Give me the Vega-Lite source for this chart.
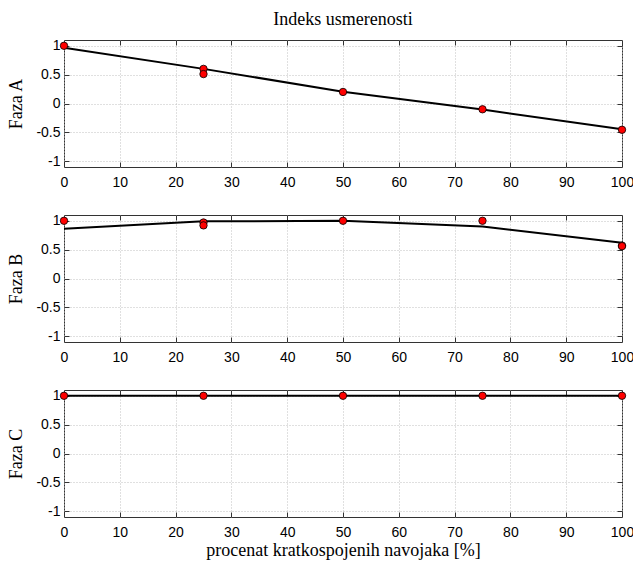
{
  "$schema": "https://vega.github.io/schema/vega-lite/v6.json",
  "background": "white",
  "padding": {"left": 7, "top": 10, "right": 5, "bottom": 0},
  "spacing": 48,
  "bounds": "flush",
  "config": {
    "view": {"stroke": "#333333", "strokeWidth": 1},
    "axis": {
      "domain": false,
      "tickColor": "#333333",
      "tickSize": -5,
      "tickWidth": 1,
      "labelFont": "Liberation Sans",
      "labelFontSize": 14,
      "labelColor": "black",
      "gridColor": "#c0c0c0",
      "gridDash": [1, 2],
      "gridWidth": 1,
      "titleFont": "Liberation Serif",
      "titleFontSize": 18,
      "titleFontWeight": "normal",
      "titleColor": "black"
    }
  },
  "datasets": {
    "lines": [
      {"panel": "A", "x": 0, "y": 0.965},
      {"panel": "A", "x": 25, "y": 0.6},
      {"panel": "A", "x": 50, "y": 0.205},
      {"panel": "A", "x": 75, "y": -0.105},
      {"panel": "A", "x": 100, "y": -0.445},
      {"panel": "B", "x": 0, "y": 0.86},
      {"panel": "B", "x": 25, "y": 0.99},
      {"panel": "B", "x": 50, "y": 1.0},
      {"panel": "B", "x": 75, "y": 0.9},
      {"panel": "B", "x": 100, "y": 0.62},
      {"panel": "C", "x": 0, "y": 1.0},
      {"panel": "C", "x": 25, "y": 1.0},
      {"panel": "C", "x": 50, "y": 1.0},
      {"panel": "C", "x": 75, "y": 1.0},
      {"panel": "C", "x": 100, "y": 1.0}
    ],
    "points": [
      {"panel": "A", "x": 0, "y": 1.0},
      {"panel": "A", "x": 25, "y": 0.6},
      {"panel": "A", "x": 25, "y": 0.51},
      {"panel": "A", "x": 50, "y": 0.2},
      {"panel": "A", "x": 75, "y": -0.1},
      {"panel": "A", "x": 100, "y": -0.455},
      {"panel": "B", "x": 0, "y": 1.0},
      {"panel": "B", "x": 25, "y": 0.97},
      {"panel": "B", "x": 25, "y": 0.92},
      {"panel": "B", "x": 50, "y": 1.0},
      {"panel": "B", "x": 75, "y": 1.0},
      {"panel": "B", "x": 100, "y": 0.57},
      {"panel": "B", "x": 100, "y": 0.56},
      {"panel": "C", "x": 0, "y": 1.0},
      {"panel": "C", "x": 25, "y": 1.0},
      {"panel": "C", "x": 50, "y": 1.0},
      {"panel": "C", "x": 75, "y": 1.0},
      {"panel": "C", "x": 100, "y": 1.0}
    ]
  },
  "vconcat": [
    {
      "width": 558,
      "height": 127,
      "title": {"text": "Indeks usmerenosti", "font": "Liberation Serif", "fontSize": 18, "fontWeight": "normal", "color": "black", "frame": "group", "anchor": "middle", "offset": 10},
      "resolve": {"axis": {"x": "independent", "y": "independent"}},
      "layer": [
        {
          "data": {"name": "lines"},
          "transform": [{"filter": "datum.panel == 'A'"}],
          "mark": {"type": "line", "color": "black", "strokeWidth": 2},
          "encoding": {
            "x": {"field": "x", "type": "quantitative", "scale": {"domain": [0, 100], "nice": false, "zero": false},
              "axis": {"values": [0,10,20,30,40,50,60,70,80,90,100], "title": null, "grid": true, "labelPadding": 13, "labelFlush": false}},
            "y": {"field": "y", "type": "quantitative", "scale": {"domain": [-1.1, 1.1], "nice": false, "zero": false},
              "axis": {"values": [-1,-0.5,0,0.5,1], "labelExpr": "'' + datum.value", "title": "Faza A", "grid": true, "labelPadding": 9, "titlePadding": 10}}
          }
        },
        {
          "data": {"name": "points"},
          "transform": [{"filter": "datum.panel == 'A'"}],
          "mark": {"type": "circle", "size": 55, "fill": "#ff0000", "stroke": "black", "strokeWidth": 0.8, "opacity": 1},
          "encoding": {
            "x": {"field": "x", "type": "quantitative", "axis": {"orient": "top", "values": [0,10,20,30,40,50,60,70,80,90,100], "labels": false, "grid": false, "title": null}},
            "y": {"field": "y", "type": "quantitative", "axis": {"orient": "right", "values": [-1,-0.5,0,0.5,1], "labels": false, "grid": false, "title": null}}
          }
        }
      ]
    },
    {
      "width": 558,
      "height": 127,
      "resolve": {"axis": {"x": "independent", "y": "independent"}},
      "layer": [
        {
          "data": {"name": "lines"},
          "transform": [{"filter": "datum.panel == 'B'"}],
          "mark": {"type": "line", "color": "black", "strokeWidth": 2},
          "encoding": {
            "x": {"field": "x", "type": "quantitative", "scale": {"domain": [0, 100], "nice": false, "zero": false},
              "axis": {"values": [0,10,20,30,40,50,60,70,80,90,100], "title": null, "grid": true, "labelPadding": 13, "labelFlush": false}},
            "y": {"field": "y", "type": "quantitative", "scale": {"domain": [-1.1, 1.1], "nice": false, "zero": false},
              "axis": {"values": [-1,-0.5,0,0.5,1], "labelExpr": "'' + datum.value", "title": "Faza B", "grid": true, "labelPadding": 9, "titlePadding": 10}}
          }
        },
        {
          "data": {"name": "points"},
          "transform": [{"filter": "datum.panel == 'B'"}],
          "mark": {"type": "circle", "size": 55, "fill": "#ff0000", "stroke": "black", "strokeWidth": 0.8, "opacity": 1},
          "encoding": {
            "x": {"field": "x", "type": "quantitative", "axis": {"orient": "top", "values": [0,10,20,30,40,50,60,70,80,90,100], "labels": false, "grid": false, "title": null}},
            "y": {"field": "y", "type": "quantitative", "axis": {"orient": "right", "values": [-1,-0.5,0,0.5,1], "labels": false, "grid": false, "title": null}}
          }
        }
      ]
    },
    {
      "width": 558,
      "height": 127,
      "resolve": {"axis": {"x": "independent", "y": "independent"}},
      "layer": [
        {
          "data": {"name": "lines"},
          "transform": [{"filter": "datum.panel == 'C'"}],
          "mark": {"type": "line", "color": "black", "strokeWidth": 2},
          "encoding": {
            "x": {"field": "x", "type": "quantitative", "scale": {"domain": [0, 100], "nice": false, "zero": false},
              "axis": {"values": [0,10,20,30,40,50,60,70,80,90,100], "title": "procenat kratkospojenih navojaka [%]", "grid": true, "labelPadding": 13, "labelFlush": false, "titlePadding": 2}},
            "y": {"field": "y", "type": "quantitative", "scale": {"domain": [-1.1, 1.1], "nice": false, "zero": false},
              "axis": {"values": [-1,-0.5,0,0.5,1], "labelExpr": "'' + datum.value", "title": "Faza C", "grid": true, "labelPadding": 9, "titlePadding": 10}}
          }
        },
        {
          "data": {"name": "points"},
          "transform": [{"filter": "datum.panel == 'C'"}],
          "mark": {"type": "circle", "size": 55, "fill": "#ff0000", "stroke": "black", "strokeWidth": 0.8, "opacity": 1},
          "encoding": {
            "x": {"field": "x", "type": "quantitative", "axis": {"orient": "top", "values": [0,10,20,30,40,50,60,70,80,90,100], "labels": false, "grid": false, "title": null}},
            "y": {"field": "y", "type": "quantitative", "axis": {"orient": "right", "values": [-1,-0.5,0,0.5,1], "labels": false, "grid": false, "title": null}}
          }
        }
      ]
    }
  ]
}
